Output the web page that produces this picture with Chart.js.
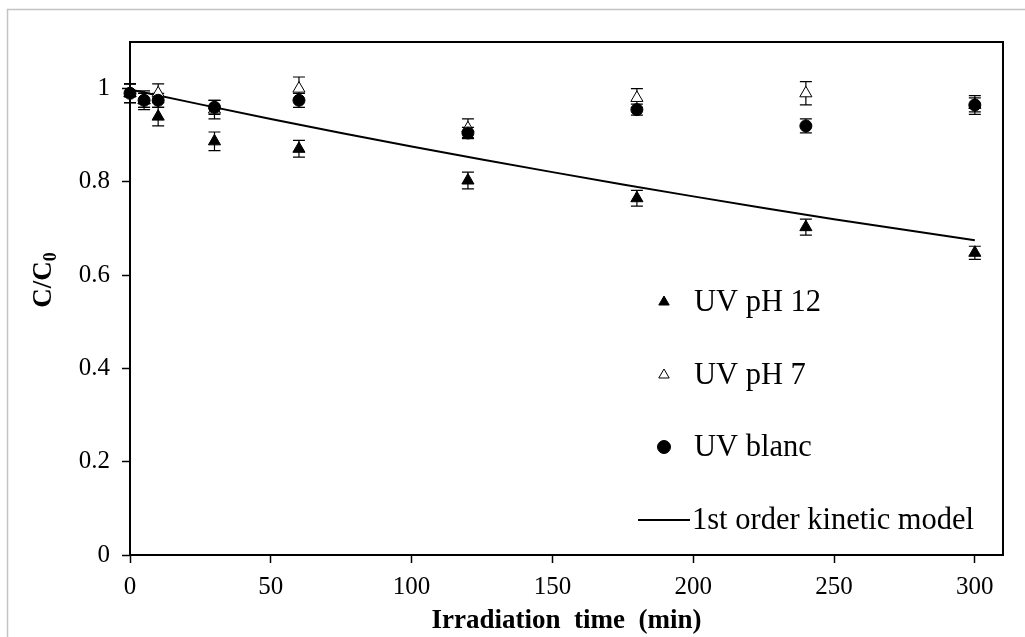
<!DOCTYPE html>
<html><head><meta charset="utf-8">
<script src="https://cdn.jsdelivr.net/npm/chart.js@4.4.1/dist/chart.umd.min.js"></script>
<style>html,body{margin:0;padding:0;background:#fff;} canvas{display:block;}</style>
</head><body><canvas id="c" width="1025" height="637"></canvas>
<script>
const times = [0, 5, 10, 30, 60, 120, 180, 240, 300];
const ph12 = [0.99, 0.975, 0.94, 0.887, 0.871, 0.803, 0.765, 0.703, 0.648];
const ph12Err = [0.02, 0.015, 0.02, 0.02, 0.018, 0.018, 0.017, 0.017, 0.014];
const ph7 = [0.99, 0.975, 0.99, 0.955, 1.0, 0.915, 0.98, 0.99, 0.965];
const ph7Err = [0.02, 0.02, 0.02, 0.02, 0.025, 0.02, 0.02, 0.025, 0.02];
const blanc = [0.99, 0.975, 0.975, 0.96, 0.975, 0.905, 0.955, 0.92, 0.965];
const blancErr = [0.02, 0.015, 0.015, 0.015, 0.015, 0.012, 0.012, 0.015, 0.015];
const modelTimes = [0, 50, 100, 150, 200, 250, 300];
const modelValues = [0.998, 0.935, 0.876, 0.821, 0.769, 0.720, 0.675];
const xTicks = [0, 50, 100, 150, 200, 250, 300];
const yTicks = [0, 0.2, 0.4, 0.6, 0.8, 1];
const labels = ['UV pH 12', 'UV pH 7', 'UV blanc', '1st order kinetic model'];
const xTitle = 'Irradiation  time  (min)';

const FONT = "'Liberation Serif','Times New Roman',serif";
Chart.defaults.font.family = FONT;
Chart.defaults.color = '#000';

const pts = (xs, ys) => xs.map((x, i) => ({x: x, y: ys[i]}));

const bgPlugin = {
  id: 'bg',
  beforeDraw(chart) {
    const c = chart.ctx;
    c.save();
    c.fillStyle = '#fff';
    c.fillRect(0, 0, chart.width, chart.height);
    c.strokeStyle = '#c4c4c4';
    c.lineWidth = 1.5;
    c.strokeRect(7.5, 9.5, chart.width + 20, chart.height + 20);
    c.restore();
  }
};

const framePlugin = {
  id: 'frame',
  beforeDatasetsDraw(chart) {
    const a = chart.chartArea, c = chart.ctx;
    c.save();
    c.strokeStyle = '#000';
    c.lineWidth = 2;
    c.strokeRect(a.left, a.top, a.right - a.left, a.bottom - a.top);
    c.restore();
  }
};

const errPlugin = {
  id: 'errbars',
  beforeDatasetsDraw(chart) {
    const c = chart.ctx, xs = chart.scales.x, ys = chart.scales.y;
    c.save();
    c.strokeStyle = '#000';
    c.lineWidth = 1.2;
    chart.data.datasets.forEach(ds => {
      if (!ds.errors) return;
      ds.data.forEach((p, i) => {
        const e = ds.errors[i];
        const x = xs.getPixelForValue(p.x);
        const y1 = ys.getPixelForValue(p.y + e);
        const y2 = ys.getPixelForValue(p.y - e);
        c.beginPath();
        c.moveTo(x, y1); c.lineTo(x, y2);
        c.moveTo(x - 6, y1); c.lineTo(x + 6, y1);
        c.moveTo(x - 6, y2); c.lineTo(x + 6, y2);
        c.stroke();
      });
    });
    c.restore();
  }
};

const titlePlugin = {
  id: 'ytitle',
  afterDraw(chart) {
    const c = chart.ctx;
    c.save();
    c.translate(44, 280);
    c.rotate(-Math.PI / 2);
    c.fillStyle = '#000';
    c.textBaseline = 'middle';
    c.font = 'bold 27px ' + FONT;
    const w1 = c.measureText('C/C').width;
    c.font = 'bold 18px ' + FONT;
    const w2 = c.measureText('0').width;
    const x0 = -(w1 + w2) / 2;
    c.font = 'bold 27px ' + FONT;
    c.fillText('C/C', x0, 0);
    c.font = 'bold 18px ' + FONT;
    c.fillText('0', x0 + w1, 7);
    c.restore();
  }
};

const legendPlugin = {
  id: 'mylegend',
  afterDraw(chart) {
    const c = chart.ctx;
    const rows = [302, 375, 447, 520];
    c.save();
    c.font = '30.5px ' + FONT;
    c.textBaseline = 'middle';
    c.fillStyle = '#000';
    chart.data.datasets.forEach((ds, i) => {
      const y = rows[i];
      if (ds.type === 'line') {
        c.strokeStyle = '#000';
        c.lineWidth = 2;
        c.beginPath(); c.moveTo(638, y); c.lineTo(690, y); c.stroke();
        c.fillStyle = '#000';
        c.fillText(ds.label, 692, y + 1);
      } else {
        c.fillStyle = ds.backgroundColor;
        c.strokeStyle = ds.borderColor;
        c.lineWidth = 1;
        Chart.helpers.drawPoint(c, {pointStyle: ds.pointStyle, radius: ds.legendRadius, rotation: 0, borderWidth: 1}, 664, y);
        c.fillStyle = '#000';
        c.fillText(ds.label, 694, y + 1);
      }
    });
    c.restore();
  }
};

new Chart(document.getElementById('c'), {
  type: 'scatter',
  data: {
    datasets: [
      {label: labels[0], data: pts(times, ph12), errors: ph12Err, pointStyle: 'triangle', pointRadius: 7, legendRadius: 6,
       backgroundColor: '#000', borderColor: '#000', borderWidth: 1, order: 1, clip: false},
      {label: labels[1], data: pts(times, ph7), errors: ph7Err, pointStyle: 'triangle', pointRadius: 7, legendRadius: 6,
       backgroundColor: '#fff', borderColor: '#000', borderWidth: 1, order: 2, clip: false},
      {label: labels[2], data: pts(times, blanc), errors: blancErr, pointStyle: 'circle', pointRadius: 6, legendRadius: 6.5,
       backgroundColor: '#000', borderColor: '#000', borderWidth: 1, order: 0, clip: false},
      {type: 'line', label: labels[3], data: pts(modelTimes, modelValues), showLine: true, pointRadius: 0,
       borderColor: '#000', borderWidth: 2, backgroundColor: '#000', fill: false, tension: 0.4, order: 3, clip: false}
    ]
  },
  options: {
    responsive: false,
    animation: false,
    devicePixelRatio: 1,
    layout: {padding: {top: 42, right: 22, left: 0, bottom: 0}},
    plugins: {legend: {display: false}, tooltip: {enabled: false}},
    scales: {
      x: {
        type: 'linear', min: 0, max: 310,
        afterBuildTicks: s => { s.ticks = xTicks.map(v => ({value: v})); },
        afterFit: s => { s.height = 82; },
        border: {display: false},
        grid: {drawOnChartArea: false, drawTicks: true, tickLength: 8, tickWidth: 1.5, tickColor: '#000'},
        ticks: {font: {size: 25}, color: '#000', padding: 9, maxRotation: 0, callback: v => String(v)},
        title: {display: true, text: xTitle, font: {size: 27, weight: 'bold'}, color: '#000', padding: {top: 0, bottom: 0}}
      },
      y: {
        type: 'linear', min: 0, max: 1.1,
        afterBuildTicks: s => { s.ticks = yTicks.map(v => ({value: v})); },
        afterFit: s => { s.width = 130; },
        border: {display: false},
        grid: {drawOnChartArea: false, drawTicks: true, tickLength: 8, tickWidth: 1.5, tickColor: '#000'},
        ticks: {font: {size: 25}, color: '#000', padding: 12, callback: v => String(v)}
      }
    }
  },
  plugins: [bgPlugin, framePlugin, errPlugin, titlePlugin, legendPlugin]
});
</script></body></html>
